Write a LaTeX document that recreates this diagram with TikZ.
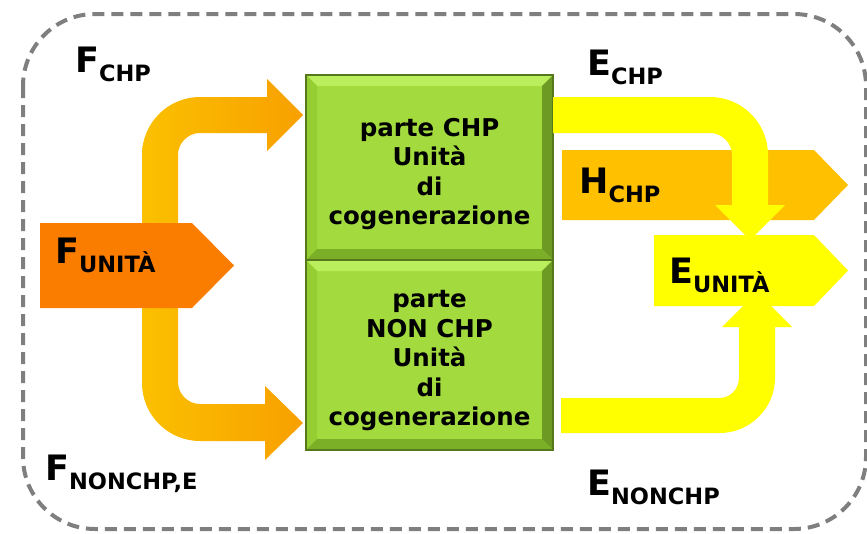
\documentclass[tikz,border=0pt]{standalone}
\usepackage{fontspec}
\setmainfont{DejaVu Sans}

\definecolor{frameGray}{HTML}{7F7F7F}
\definecolor{fuelOrange}{HTML}{FA7D00}
\definecolor{fuelLeft}{HTML}{FBC000}
\definecolor{fuelRight}{HTML}{F8A000}
\definecolor{heatAmber}{HTML}{FFC000}
\definecolor{powerYellow}{HTML}{FFFF00}
\definecolor{boxFace}{HTML}{A3DB3E}
\definecolor{boxEdge}{HTML}{56781C}
\definecolor{bevTop}{HTML}{BBEE5C}
\definecolor{bevLeft}{HTML}{94CE33}
\definecolor{bevBottom}{HTML}{7BAF27}
\definecolor{bevRight}{HTML}{6C9A22}

% flow label: large letter with a lowered, smaller index
\newcommand{\flowlab}[2]{{\fontsize{35}{35}\selectfont\bfseries #1}\raisebox{-9pt}{\fontsize{22.5}{22.5}\selectfont\bfseries #2}}

\tikzset{
  frame/.style={draw=frameGray, line width=4pt, dash pattern=on 12pt off 7pt, rounded corners=72pt},
  flowlabel/.style={anchor=base west, inner sep=0pt, text=black},
  boxtext/.style={align=center, inner sep=0pt, font=\fontsize{24.5}{29.5}\selectfont\bfseries, text=black},
  bevelbox/.style={rectangle, inner sep=0pt, fill=boxFace, draw=boxEdge, line width=1.2pt,
    path picture={
      \coordinate (bnw) at (path picture bounding box.north west);
      \coordinate (bne) at (path picture bounding box.north east);
      \coordinate (bsw) at (path picture bounding box.south west);
      \coordinate (bse) at (path picture bounding box.south east);
      \fill[bevTop] (bnw) -- (bne) -- ([shift={(-11pt,-11pt)}]bne) -- ([shift={(11pt,-11pt)}]bnw) -- cycle;
      \fill[bevLeft] (bnw) -- ([shift={(11pt,-11pt)}]bnw) -- ([shift={(11pt,11pt)}]bsw) -- (bsw) -- cycle;
      \fill[bevBottom] (bsw) -- ([shift={(11pt,11pt)}]bsw) -- ([shift={(-11pt,11pt)}]bse) -- (bse) -- cycle;
      \fill[bevRight] (bne) -- (bse) -- ([shift={(-11pt,11pt)}]bse) -- ([shift={(-11pt,-11pt)}]bne) -- cycle;
    }}
}

\begin{document}
\begin{tikzpicture}[x=1pt,y=-1pt]
\useasboundingbox (0,0) rectangle (867,533);

% dashed boundary of the unit
\draw[frame] (23,14) rectangle (866,529);

% fuel to the CHP part
\shade[left color=fuelLeft, right color=fuelRight]
  (142,223) -- (142,155) .. controls (142,123) and (168,97) .. (200,97)
  -- (267,97) -- (267,79) -- (303,115) -- (267,151) -- (267,133)
  -- (200,133) .. controls (188,133) and (178,143) .. (178,155)
  -- (178,223) -- cycle;

% fuel to the non-CHP part
\shade[left color=fuelLeft, right color=fuelRight]
  (142,308) -- (142,383) .. controls (142,415) and (168,441) .. (200,441)
  -- (265,441) -- (265,460) -- (303,423) -- (265,386) -- (265,404)
  -- (200,404) .. controls (188,404) and (178,394) .. (178,382)
  -- (178,308) -- cycle;

% total fuel input
\fill[fuelOrange] (40,223) -- (192,223) -- (234,265.5) -- (192,308) -- (40,308) -- cycle;

% the two parts of the unit
\node[bevelbox, minimum width=247pt, minimum height=185pt] (chp) at (429.5,167.5) {};
\node[bevelbox, minimum width=247pt, minimum height=190pt] (nonchp) at (429.5,355) {};
\node[boxtext] (chptext) at (429.5,174) {parte CHP\\Unità\\di\\cogenerazione};
\node[boxtext] (nonchptext) at (429.5,361) {parte\\NON CHP\\Unità\\di\\cogenerazione};

% heat output
\fill[heatAmber] (562,150) -- (814,150) -- (848,185) -- (814,220) -- (562,220) -- cycle;

% electricity from the CHP part
\fill[powerYellow]
  (553,97) -- (710,97) .. controls (742,97) and (768,123) .. (768,155)
  -- (768,205) -- (785,205) -- (750,240) -- (715,205) -- (732,205)
  -- (732,155) .. controls (732,143) and (722,133) .. (710,133)
  -- (553,133) -- cycle;

% electricity from the non-CHP part
\fill[powerYellow]
  (561,433) -- (720,433) .. controls (750,433) and (775,408) .. (775,378)
  -- (775,327) -- (792,327) -- (757,292) -- (722,327) -- (739,327)
  -- (739,378) .. controls (739,389) and (730,398) .. (720,398)
  -- (561,398) -- cycle;

% total electricity output
\fill[powerYellow] (654,235) -- (814,235) -- (848,270.5) -- (814,306) -- (654,306) -- cycle;

% flow labels
\node[flowlabel] (fchp) at (75,72) {\flowlab{F}{CHP}};
\node[flowlabel] (funit) at (55,263) {\flowlab{F}{UNITÀ}};
\node[flowlabel] (fnonchp) at (45,480) {\flowlab{F}{NONCHP,E}};
\node[flowlabel] (echp) at (587,75) {\flowlab{E}{CHP}};
\node[flowlabel] (hchp) at (579,193) {\flowlab{H}{CHP}};
\node[flowlabel] (eunit) at (669,283) {\flowlab{E}{UNITÀ}};
\node[flowlabel] (enonchp) at (587,495) {\flowlab{E}{NONCHP}};
\end{tikzpicture}
\end{document}
